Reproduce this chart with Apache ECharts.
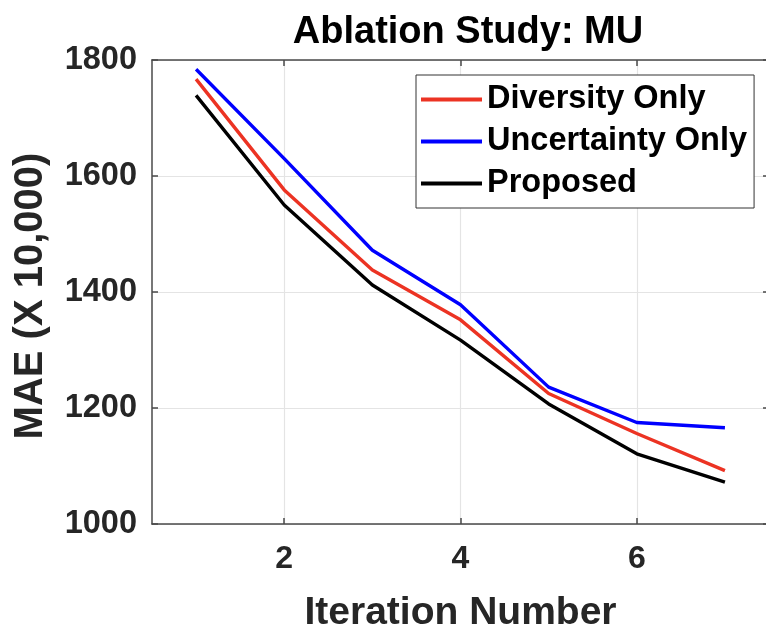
<!DOCTYPE html>
<html>
<head>
<meta charset="utf-8">
<script src="https://cdn.jsdelivr.net/npm/echarts@6/dist/echarts.min.js"></script>
<style>
  html, body { margin: 0; padding: 0; background: #fff; }
  #chart { width: 766px; height: 630px; }
</style>
</head>
<body>
<div id="chart"></div>
<script>
const iterations = [1, 2, 3, 4, 5, 6, 7];
const diversityOnly = [1767, 1576, 1438, 1352, 1225, 1156, 1092];
const uncertaintyOnly = [1784, 1630, 1472, 1378, 1236, 1175, 1166];
const proposed = [1739, 1550, 1412, 1317, 1207, 1121, 1072];
const xTicks = [2, 4, 6];
const yTicks = [1000, 1200, 1400, 1600, 1800];
const seriesNames = ['Diversity Only', 'Uncertainty Only', 'Proposed'];

const FONT = '"Liberation Sans", Arial, Helvetica, sans-serif';
const axisColor = '#4a4a4a';
const gridColor = '#e4e4e4';
const textColor = '#262626';

function pairs(ys) { return iterations.map((x, i) => [x, ys[i]]); }

const chart = echarts.init(document.getElementById('chart'), null, { renderer: 'canvas' });
const option = {
  backgroundColor: '#fff',
  animation: false,
  title: {
    text: 'Ablation Study: MU',
    left: 463,
    textAlign: 'center',
    top: 9,
    textStyle: { fontFamily: FONT, fontWeight: 'bold', fontSize: 38, color: '#000' }
  },
  legend: {
    data: seriesNames,
    orient: 'vertical',
    left: 416,
    top: 75,
    backgroundColor: '#fff',
    borderColor: '#333',
    borderWidth: 1,
    padding: [8, 7, 8, 5],
    itemGap: 9,
    itemWidth: 61,
    itemHeight: 4,
    icon: 'rect',
    textStyle: { fontFamily: FONT, fontWeight: 'bold', fontSize: 32.5, color: '#000' }
  },
  grid: {
    left: 152, top: 60, right: -3, bottom: 106,
    containLabel: false,
    outerBoundsMode: 'none'
  },
  xAxis: [{
    type: 'value',
    min: 0.5, max: 7.5,
    name: 'Iteration Number',
    nameLocation: 'middle',
    nameGap: 70,
    nameTextStyle: { fontFamily: FONT, fontWeight: 'bold', fontSize: 39, color: textColor },
    axisLine: { show: true, lineStyle: { color: axisColor, width: 1.5 } },
    axisTick: { show: true, inside: true, length: 6, customValues: xTicks, lineStyle: { color: axisColor, width: 1.5 } },
    axisLabel: { customValues: xTicks, margin: 19, fontFamily: FONT, fontWeight: 'bold', fontSize: 32, color: textColor },
    splitLine: { show: true, lineStyle: { color: gridColor, width: 1.2 } }
  }, {
    type: 'value',
    position: 'top',
    min: 0.5, max: 7.5,
    axisLine: { show: true, onZero: false, lineStyle: { color: axisColor, width: 1.5 } },
    axisTick: { show: true, inside: true, length: 6, customValues: xTicks, lineStyle: { color: axisColor, width: 1.5 } },
    axisLabel: { show: false },
    splitLine: { show: false }
  }],
  yAxis: [{
    type: 'value',
    min: 1000, max: 1800, interval: 200,
    name: 'MAE (X 10,000)',
    nameLocation: 'middle',
    nameRotate: 90,
    nameGap: 101,
    nameTextStyle: { fontFamily: FONT, fontWeight: 'bold', fontSize: 40, color: textColor, padding: [0, 8, 0, 0] },
    axisLine: { show: true, lineStyle: { color: axisColor, width: 1.5 } },
    axisTick: { show: true, inside: true, length: 6, lineStyle: { color: axisColor, width: 1.5 } },
    axisLabel: { margin: 15, fontFamily: FONT, fontWeight: 'bold', fontSize: 32.5, color: textColor, formatter: v => String(v) },
    splitLine: { show: true, lineStyle: { color: gridColor, width: 1.2 } }
  }, {
    type: 'value',
    position: 'right',
    min: 1000, max: 1800, interval: 200,
    axisLine: { show: true, onZero: false, lineStyle: { color: axisColor, width: 1.5 } },
    axisTick: { show: true, inside: true, length: 6, lineStyle: { color: axisColor, width: 1.5 } },
    axisLabel: { show: false },
    splitLine: { show: false }
  }],
  series: [
    { name: seriesNames[0], type: 'line', data: pairs(diversityOnly), showSymbol: false, symbol: 'none',
      color: '#ec3323', lineStyle: { color: '#ec3323', width: 3.4 } },
    { name: seriesNames[1], type: 'line', data: pairs(uncertaintyOnly), showSymbol: false, symbol: 'none',
      color: '#0000ff', lineStyle: { color: '#0000ff', width: 3.4 } },
    { name: seriesNames[2], type: 'line', data: pairs(proposed), showSymbol: false, symbol: 'none',
      color: '#000000', lineStyle: { color: '#000000', width: 3.4 } }
  ]
};
chart.setOption(option);
</script>
</body>
</html>
